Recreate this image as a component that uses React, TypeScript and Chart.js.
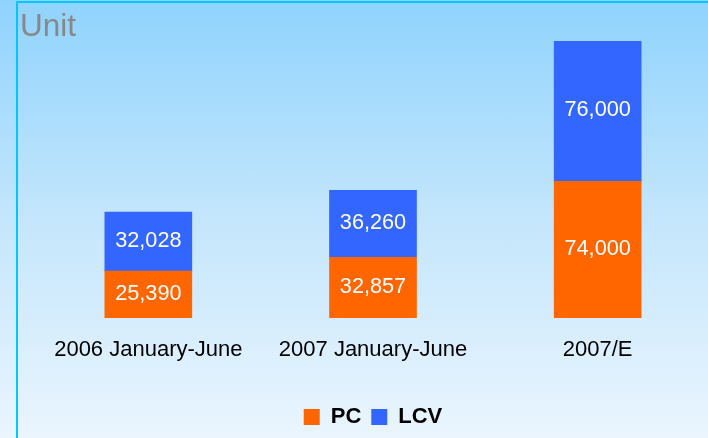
import { useEffect, useRef } from 'react';
import { Chart, registerables } from 'chart.js';

Chart.register(...registerables);

const categories = ['2006 January-June', '2007 January-June', '2007/E'];
const pcValues = [25390, 32857, 74000];
const lcvValues = [32028, 36260, 76000];
const seriesNames = ['PC', 'LCV'];
const unitLabel = 'Unit';
const yMax = 150000;

const FONT = '"Liberation Sans", Arial, Helvetica, sans-serif';

const valueLabels = {
  id: 'valueLabels',
  afterDatasetsDraw(chart: any) {
    const ctx = chart.ctx;
    ctx.save();
    ctx.font = `21.7px ${FONT}`;
    ctx.fillStyle = '#ffffff';
    ctx.textAlign = 'center';
    ctx.textBaseline = 'alphabetic';
    chart.data.datasets.forEach((ds: any, di: number) => {
      const meta = chart.getDatasetMeta(di);
      meta.data.forEach((bar: any, i: number) => {
        const p = bar.getProps(['x', 'y', 'base'], true);
        const cy = (p.y + p.base) / 2;
        ctx.fillText(Number(ds.data[i]).toLocaleString('en-US'), p.x, cy + 5);
      });
    });
    ctx.restore();
  },
};

const unitTitle = {
  id: 'unitTitle',
  afterDraw(chart: any) {
    const ctx = chart.ctx;
    ctx.save();
    ctx.font = `31.5px ${FONT}`;
    ctx.fillStyle = '#888888';
    ctx.textAlign = 'left';
    ctx.textBaseline = 'alphabetic';
    ctx.fillText(unitLabel, 20, 36);
    ctx.restore();
  },
};

export default function App() {
  const ref = useRef<HTMLCanvasElement>(null);
  useEffect(() => {
    if (!ref.current) return;
    const chart = new Chart(ref.current, {
      type: 'bar',
      data: {
        labels: categories,
        datasets: [
          { label: seriesNames[0], data: pcValues, backgroundColor: '#ff6600', borderWidth: 0, barThickness: 87 },
          { label: seriesNames[1], data: lcvValues, backgroundColor: '#3366ff', borderWidth: 0, barThickness: 87 },
        ],
      },
      options: {
        responsive: false,
        animation: false,
        devicePixelRatio: 1,
        layout: { padding: { left: 36, right: 0, top: 41, bottom: 0 } },
        scales: {
          x: {
            stacked: true,
            grid: { display: false, drawTicks: false },
            border: { display: false },
            ticks: { color: '#000000', font: { family: FONT, size: 22 }, padding: 19 },
            afterFit: (scale: any) => { scale.height = 78; },
          },
          y: { stacked: true, display: false, min: 0, max: yMax },
        },
        plugins: {
          tooltip: { enabled: false },
          legend: {
            position: 'bottom',
            fullSize: false,
            labels: {
              boxWidth: 16,
              boxHeight: 16,
              padding: 10,
              color: '#000000',
              font: { family: FONT, size: 22, weight: 'bold' },
            },
          },
        },
      },
      plugins: [valueLabels, unitTitle],
    } as any);
    return () => chart.destroy();
  }, []);

  return (
    <div
      style={{
        position: 'fixed',
        left: 0,
        top: 0,
        width: 708,
        height: 438,
        overflow: 'hidden',
        background: 'linear-gradient(to bottom, #8fd3fd 0%, #c4e6fc 50%, #eaf5fe 100%)',
      }}
    >
      <div
        style={{
          position: 'absolute',
          left: 16,
          top: 1,
          right: -10,
          bottom: -10,
          borderLeft: '2px solid #00c8ff',
          borderTop: '2px solid #00c8ff',
        }}
      />
      <canvas ref={ref} width={710} height={438} style={{ position: 'absolute', left: 0, top: 0, width: 710, height: 438 }} />
    </div>
  );
}
